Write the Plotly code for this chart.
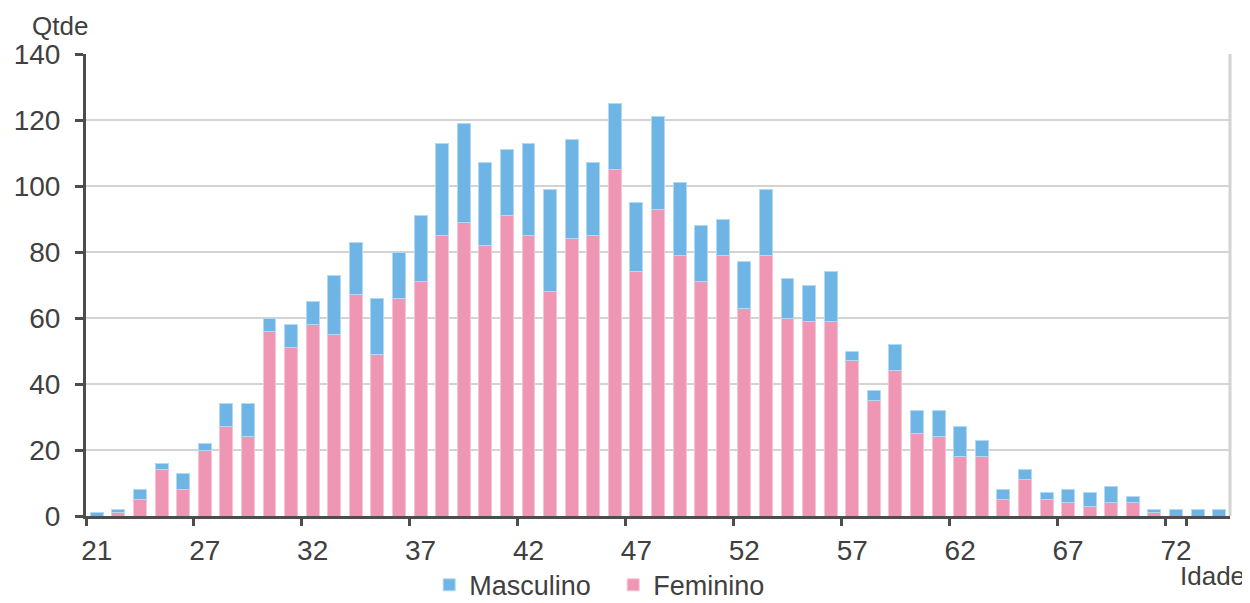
import plotly.graph_objects as go

idade = ["21"] + [str(a) for a in range(23, 75)]
total = [1, 2, 8, 16, 13, 22, 34, 34, 60, 58, 65, 73, 83, 66, 80, 91, 113, 119, 107, 111,
         113, 99, 114, 107, 125, 95, 121, 101, 88, 90, 77, 99, 72, 70, 74, 50, 38, 52, 32, 32,
         27, 23, 8, 14, 7, 8, 7, 9, 6, 2, 2, 2, 2]
feminino = [0, 1, 5, 14, 8, 20, 27, 24, 56, 51, 58, 55, 67, 49, 66, 71, 85, 89, 82, 91,
            85, 68, 84, 85, 105, 74, 93, 79, 71, 79, 63, 79, 60, 59, 59, 47, 35, 44, 25, 24,
            18, 18, 5, 11, 5, 4, 3, 4, 4, 1, 0, 0, 0]
masculino = [t - f for t, f in zip(total, feminino)]
tick_labels = ["21", "27", "32", "37", "42", "47", "52", "57", "62", "67", "72"]

FONT = "Liberation Sans, Arial, sans-serif"
TXT = "#404040"
AX = "#4d4d4d"
GRID = "#d3d3d3"
FS = 28

fig = go.Figure()
fig.add_trace(go.Bar(x=idade, y=feminino, name="Feminino", legendrank=2,
                     marker=dict(color="#EE96B4", line=dict(color="#F6C4D6", width=1))))
fig.add_trace(go.Bar(x=idade, y=masculino, name="Masculino", legendrank=1,
                     marker=dict(color="#6EB5E6", line=dict(color="#B3DAF3", width=1))))

# page body has an 8px margin, so the figure is made 8px smaller and margins shifted
fig.update_layout(
    width=1242, height=595,
    margin=dict(l=78, r=20, t=46, b=87, autoexpand=False),
    barmode="stack", bargap=0.4,
    plot_bgcolor="white", paper_bgcolor="white",
    font=dict(family=FONT, size=FS, color=TXT),
    showlegend=True,
    legend=dict(orientation="h", traceorder="normal", x=0.30, xanchor="left",
                y=-0.150, yanchor="middle", entrywidth=139, entrywidthmode="pixels",
                font=dict(size=27, color=TXT), itemclick=False, bgcolor="rgba(0,0,0,0)"),
    xaxis=dict(type="category", range=[-0.5, len(idade) - 0.5], automargin=False,
               tickmode="array", tickvals=tick_labels, ticktext=tick_labels, tickangle=0,
               tickson="boundaries", ticks="outside", ticklen=7, tickwidth=3, tickcolor=AX,
               showline=True, linecolor=AX, linewidth=3, showgrid=False,
               tickfont=dict(size=FS, color=TXT), ticklabelstandoff=7),
    yaxis=dict(range=[0, 140], dtick=20, tick0=0, ticks="outside", ticklen=8, tickwidth=3,
               tickcolor=AX, showline=True, linecolor=AX, linewidth=3, automargin=False,
               showgrid=True, gridcolor=GRID, gridwidth=2, zeroline=False,
               tickfont=dict(size=FS, color=TXT), ticklabelstandoff=9),
    shapes=[dict(type="line", xref="paper", yref="paper", x0=1, x1=1, y0=0, y1=1,
                 line=dict(color=GRID, width=3), layer="below")],
    annotations=[
        dict(text="Qtde", xref="paper", yref="paper", x=-0.0227, y=1.0606,
             xanchor="center", yanchor="middle", showarrow=False,
             font=dict(size=26, color=TXT)),
        dict(text="Idade", xref="paper", yref="paper", x=0.985, y=-0.13,
             xanchor="center", yanchor="middle", showarrow=False,
             font=dict(size=26, color=TXT)),
    ],
)

fig.write_html("out.html")
